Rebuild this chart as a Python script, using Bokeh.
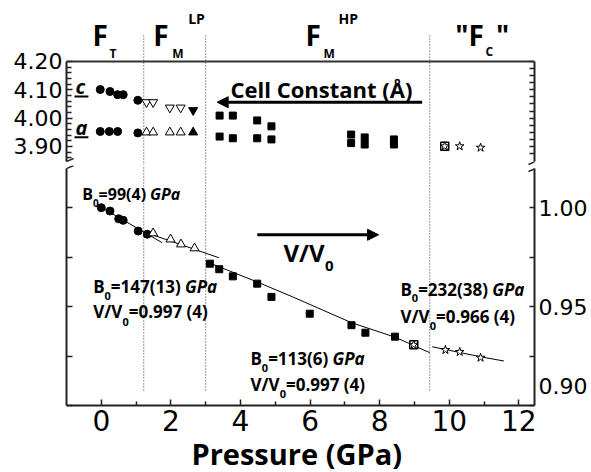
from bokeh.plotting import figure
from bokeh.layouts import column
from bokeh.models import (Range1d, LinearAxis, FixedTicker, PrintfTickFormatter,
                          CustomJSTickFormatter, Label, Arrow, NormalHead, Span)
from bokeh.embed import file_html
from bokeh.resources import INLINE

# ---------------- data ----------------
x_ticks = [0, 2, 4, 6, 8, 10, 12]
x_minor = [1, 3, 5, 7, 9, 11]
phase_bounds = [1.22, 3.0, 9.44]
vv_ticks = [0.90, 0.925, 0.95, 0.975, 1.00]
vv_labels = [0.90, 0.95, 1.00]

# cell constants (Angstrom)
ft_c_p = [-0.03, 0.25, 0.47, 0.63, 1.05]
ft_c = [4.101, 4.094, 4.083, 4.083, 4.063]
ft_a_p = [-0.03, 0.23, 0.47, 1.05]
ft_a = [3.953, 3.953, 3.953, 3.948]
lp_c_p = [1.30, 1.49, 1.97, 2.28]
lp_c = [4.056, 4.056, 4.037, 4.037]
lp_a_p = [1.30, 1.49, 1.97, 2.28]
lp_a = [3.950, 3.950, 3.950, 3.950]
lp2_p = [2.64]
lp2_c = [4.028]
lp2_a = [3.950]
hp_p = [3.40, 3.78, 4.48, 4.89, 7.18, 7.57, 8.41]
hp_c = [4.009, 4.009, 3.992, 3.971, 3.942, 3.932, 3.925]
hp_a = [3.935, 3.929, 3.929, 3.925, 3.912, 3.907, 3.907]
mix_top_p = [9.87]
mix_top = [3.901]
fc_top_p = [9.87, 10.30, 10.90]
fc_top = [3.901, 3.901, 3.896]

# V/V0
ft_v_p = [0.0, 0.25, 0.50, 0.63, 1.06, 1.32]
ft_v = [1.0000, 0.9983, 0.9944, 0.9936, 0.9882, 0.9866]
lp_v_p = [1.49, 1.99, 2.29, 2.68]
lp_v = [0.9871, 0.9840, 0.9815, 0.9795]
hp_v_p = [3.12, 3.39, 3.78, 4.48, 4.89, 5.99, 7.19, 7.59, 8.44]
hp_v = [0.9717, 0.9689, 0.9653, 0.9616, 0.9549, 0.9464, 0.9406, 0.9368, 0.9348]
mix_v_p = [8.98]
mix_v = [0.9307]
fc_v_p = [8.98, 9.89, 10.30, 10.90]
fc_v = [0.9307, 0.9281, 0.9271, 0.9242]

# fitted equations of state
fit1_p = [-0.10, 1.75]
fit1_v = [1.0012, 0.9823]
fit2_p = [1.42, 3.38]
fit2_v = [0.9866, 0.9747]
fit3_p = [3.05, 4.5, 5.5, 7.2, 8.45, 9.44]
fit3_v = [0.9725, 0.9623, 0.9549, 0.9418, 0.9345, 0.9267]
fit4_p = [9.51, 10.3, 11.0, 11.57]
fit4_v = [0.9297, 0.9268, 0.9243, 0.9225]

# ---------------- layout constants ----------------
X0, X1 = -1.0, 12.45
FRAME_W = 468
PX_X = FRAME_W / (X1 - X0)
TOP_FRAME_H = 165
BOT_FRAME_H = 240
TOP_LO, TOP_HI = 3.8329, 4.4153
BOT_LO, BOT_HI = 0.90, 1.02133
PX_TOP = TOP_FRAME_H / (TOP_HI - TOP_LO)
PX_BOT = BOT_FRAME_H / (BOT_HI - BOT_LO)
FONT = "Open Sans"
TICK_FONT = "DejaVu Sans"
INK = "#222222"
MID = 0.38
LOW_LABEL_LIFT = 0.0100   # the bottom "0.90" label sits above its tick in the original

W = {'B': 0.669, 'V': 0.635, '/': 0.42, '=': 0.572, '(': 0.332, ')': 0.332,
     ' ': 0.26, '.': 0.285, 'G': 0.727, 'P': 0.637, 'a': 0.604, 'F': 0.575,
     'T': 0.569, 'M': 0.907, 'C': 0.632, '"': 0.472, 'L': 0.529, 'H': 0.754}


def text_w(s, size):
    return sum(W.get(ch, 0.572) for ch in s) * size


def run(fig, x, y, pxy, parts):
    """Place text runs left to right; y is the baseline of the first run."""
    adv = 0.0
    for text, size, style, dy, gap in parts:
        adv += gap
        fig.add_layout(Label(x=x + adv / PX_X, y=y + (MID * size - dy) / pxy, text=text,
                             text_font=FONT, text_font_size=f"{size}px",
                             text_font_style=style, text_color="black",
                             text_baseline="middle", text_align="left"))
        adv += text_w(text, size)


def style_axis(ax, labels=True, tick_in=6, minor_in=4):
    ax.axis_line_width = 2
    ax.axis_line_color = INK
    ax.major_tick_in = tick_in
    ax.major_tick_out = 0
    ax.minor_tick_in = minor_in
    ax.minor_tick_out = 0
    ax.major_tick_line_width = 1.5
    ax.minor_tick_line_width = 1.5
    ax.major_tick_line_color = INK
    ax.minor_tick_line_color = INK
    ax.major_label_text_font = TICK_FONT
    ax.major_label_text_font_size = "22px"
    ax.major_label_text_color = "black"
    ax.major_label_standoff = 4
    if not labels:
        ax.formatter = CustomJSTickFormatter(code="return '';")
        ax.major_label_standoff = 0


xr = Range1d(X0, X1)

# ---------------- top panel: cell constants ----------------
p1 = figure(frame_width=FRAME_W, frame_height=TOP_FRAME_H, x_range=xr,
            y_range=Range1d(TOP_LO, TOP_HI), title=None,
            x_axis_type=None, y_axis_type=None, output_backend="svg",
            toolbar_location=None, min_border_left=66, min_border_right=56,
            min_border_top=0, min_border_bottom=0)
p1.outline_line_color = None
p1.background_fill_color = "white"
p1.border_fill_color = "white"

top_bounds = (3.847, 4.20)
major_top = [3.9, 4.0, 4.1, 4.2]
minor_top = [round(3.86 + 0.02 * i, 2) for i in range(18)]
minor_top = [m for m in minor_top if all(abs(m - t) > 1e-6 for t in major_top)]
la = LinearAxis(ticker=FixedTicker(ticks=major_top, minor_ticks=minor_top),
                formatter=PrintfTickFormatter(format="%.2f"), bounds=top_bounds)
style_axis(la, labels=True, tick_in=6, minor_in=5)
p1.add_layout(la, "left")
ra = LinearAxis(ticker=FixedTicker(ticks=[round(3.875 + 0.025 * i, 3) for i in range(14)]),
                bounds=top_bounds)
style_axis(ra, labels=False, tick_in=5)
p1.add_layout(ra, "right")

p1.add_layout(Span(location=4.2, dimension="width", line_color="#333333", line_width=2))
p1.segment(x0=phase_bounds, y0=[TOP_LO] * 3, x1=phase_bounds, y1=[4.2988] * 3,
           line_color="#333333", line_width=1, line_dash="1 2")

p1.scatter(ft_c_p, ft_c, marker="circle", size=8, color="black")
p1.scatter(ft_a_p, ft_a, marker="circle", size=8, color="black")
p1.scatter(lp_c_p, lp_c, marker="inverted_triangle", size=9, fill_color="white",
           line_color="black", line_width=1)
p1.scatter(lp_a_p, lp_a, marker="triangle", size=9, fill_color="white",
           line_color="black", line_width=1)
p1.scatter(lp2_p, lp2_c, marker="inverted_triangle", size=9, color="black")
p1.scatter(lp2_p, lp2_a, marker="triangle", size=9, color="black")
p1.scatter(hp_p, hp_c, marker="square", size=7, color="black")
p1.scatter(hp_p, hp_a, marker="square", size=7, color="black")
p1.scatter(mix_top_p, mix_top, marker="square", size=8, fill_color="white",
           line_color="black", line_width=1.5)
p1.scatter(fc_top_p, fc_top, marker="star", size=9, fill_color="white",
           line_color="black", line_width=1)

# c / a underlined letters
run(p1, -0.741, 4.0860, PX_TOP, [("c", 20, "bold italic", 0, 0)])
run(p1, -0.741, 3.9413, PX_TOP, [("a", 20, "bold italic", 0, 0)])
p1.segment(x0=[-0.77, -0.77], y0=[4.0765, 3.9328], x1=[-0.37, -0.37],
           y1=[4.0765, 3.9328], line_color="black", line_width=2)

# phase names
run(p1, -0.253, 4.2565, PX_TOP, [("F", 28, "bold", 0, 0), ("T", 12, "bold", 13, 1)])
run(p1, 1.491, 4.2565, PX_TOP, [("F", 28, "bold", 0, 0), ("M", 12, "bold", 13, 3),
                                ("LP", 14, "bold", -21.7, 5)])
run(p1, 5.868, 4.2565, PX_TOP, [("F", 28, "bold", 0, 0), ("M", 12, "bold", 13, 2),
                                ("HP", 14, "bold", -21.7, 4)])
run(p1, 10.17, 4.2565, PX_TOP, [('"F', 28, "bold", 0, 0), ("C", 12, "bold", 11, 1),
                                ('"', 28, "bold", 0, 3)])

# Cell constant title + arrow
run(p1, 3.715, 4.0719, PX_TOP, [("Cell Constant (Å)", 22, "bold", 0, 0)])
p1.add_layout(Arrow(end=NormalHead(size=11, fill_color="black", line_color="black"),
                    x_start=9.221, y_start=4.0563, x_end=3.330, y_end=4.0563,
                    line_width=3, line_color="black"))

# break marks (upper halves)
for xs, xe in [(-1.198, -0.796), (12.277, 12.68)]:
    p1.add_layout(Arrow(end=None, x_start=xs, y_start=3.8364, x_end=xe, y_end=3.8576,
                        line_width=1.5, line_color=INK))

# ---------------- bottom panel: V/V0 ----------------
p2 = figure(frame_width=FRAME_W, frame_height=BOT_FRAME_H, x_range=xr,
            y_range=Range1d(BOT_LO, BOT_HI), title=None,
            y_axis_type=None, output_backend="svg", toolbar_location=None,
            min_border_left=66, min_border_right=56, min_border_top=0,
            min_border_bottom=66)
p2.outline_line_color = None
p2.background_fill_color = "white"
p2.border_fill_color = "white"
p2.xgrid.visible = False

xa = p2.xaxis[0]
xa.ticker = FixedTicker(ticks=x_ticks, minor_ticks=x_minor)
style_axis(xa, labels=True, tick_in=6, minor_in=4)
xa.major_label_text_font_size = "28px"
xa.major_label_standoff = 4
xa.axis_label = "Pressure  (GPa)"
xa.axis_label_text_font = FONT
xa.axis_label_text_font_style = "bold"
xa.axis_label_text_font_size = "29px"
xa.axis_label_text_color = "black"
xa.axis_label_standoff = 0

bot_bounds = (0.90, 1.0198)
lb = LinearAxis(ticker=FixedTicker(ticks=vv_ticks), bounds=bot_bounds)
style_axis(lb, labels=False, tick_in=6)
p2.add_layout(lb, "left")

# right axis: tick marks drawn as minor ticks; labelled positions carry no mark
label_pos = [v + (LOW_LABEL_LIFT if v == min(vv_labels) else 0.0) for v in vv_labels]
rb = LinearAxis(ticker=FixedTicker(ticks=label_pos, minor_ticks=vv_ticks),
                formatter=CustomJSTickFormatter(
                    code="return (tick < 0.92 ? 0.90 : tick).toFixed(2);"),
                bounds=bot_bounds)
style_axis(rb, labels=True, tick_in=0, minor_in=5)
p2.add_layout(rb, "right")

p2.segment(x0=phase_bounds, y0=[0.9076] * 3, x1=phase_bounds, y1=[BOT_HI] * 3,
           line_color="#333333", line_width=1, line_dash="1 2")

for fx, fy in [(fit1_p, fit1_v), (fit2_p, fit2_v), (fit3_p, fit3_v), (fit4_p, fit4_v)]:
    p2.line(fx, fy, line_color="black", line_width=1)

p2.scatter(ft_v_p, ft_v, marker="circle", size=8, color="black")
p2.scatter(lp_v_p, lp_v, marker="triangle", size=9, fill_color="white",
           line_color="black", line_width=1)
p2.scatter(hp_v_p, hp_v, marker="square", size=7, color="black")
p2.scatter(mix_v_p, mix_v, marker="square", size=8, fill_color="white",
           line_color="black", line_width=1.5)
p2.scatter(fc_v_p, fc_v, marker="star", size=9, fill_color="white",
           line_color="black", line_width=1)

# annotations
run(p2, -0.549, 1.0040, PX_BOT, [("B", 16, "bold", 0, 0), ("0", 10, "bold", 6.7, 0),
                                 ("=99(4) ", 16, "bold", 0, 0), ("GPa", 16, "bold italic", 0, 0)])
run(p2, -0.233, 0.95677, PX_BOT, [("B", 17, "bold", 0, 0), ("0", 11, "bold", 6.6, 0),
                                  ("=147(13) ", 17, "bold", 0, 0), ("GPa", 17, "bold italic", 0, 0)])
run(p2, -0.233, 0.94414, PX_BOT, [("V/V", 17, "bold", 0, 0), ("0", 11, "bold", 8.3, 0.5),
                                  ("=0.997 (4)", 17, "bold", 0, 0)])
run(p2, 4.287, 0.92053, PX_BOT, [("B", 17, "bold", 0, 0), ("0", 11, "bold", 6.8, 0),
                                 ("=113(6) ", 17, "bold", 0, 0), ("GPa", 17, "bold italic", 0, 0)])
run(p2, 4.287, 0.90753, PX_BOT, [("V/V", 17, "bold", 0, 0), ("0", 11, "bold", 7.6, 0.5),
                                 ("=0.997 (4)", 17, "bold", 0, 0)])
run(p2, 8.598, 0.95561, PX_BOT, [("B", 17, "bold", 0, 0), ("0", 11, "bold", 6.7, 0),
                                 ("=232(38) ", 17, "bold", 0, 0), ("GPa", 17, "bold italic", 0, 0)])
run(p2, 8.598, 0.94161, PX_BOT, [("V/V", 17, "bold", 0, 0), ("0", 11, "bold", 6.6, 0.5),
                                 ("=0.966 (4)", 17, "bold", 0, 0)])
run(p2, 5.236, 0.9728, PX_BOT, [("V/V", 24, "bold", 0, 0), ("0", 15, "bold", 10, 1)])
p2.add_layout(Arrow(end=NormalHead(size=11, fill_color="black", line_color="black"),
                    x_start=4.483, y_start=0.9863, x_end=7.968, y_end=0.9863,
                    line_width=3, line_color="black"))

# break marks (lower halves)
for xs, xe in [(-1.198, -0.796), (12.277, 12.68)]:
    p2.add_layout(Arrow(end=None, x_start=xs, y_start=1.0183, x_end=xe, y_end=BOT_HI,
                        line_width=1.5, line_color=INK))

layout = column(p1, p2)
open("out.html", "w").write(file_html(layout, INLINE))
